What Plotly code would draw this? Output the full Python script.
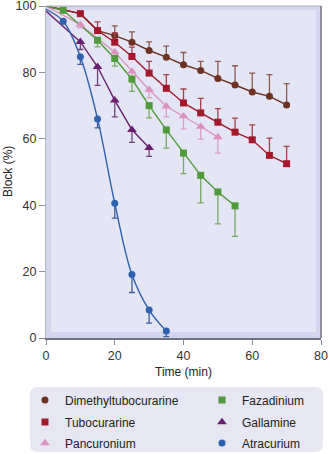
import plotly.graph_objects as go

# Time axis values (min) and percentage block per drug, with SEM bars
dm_time = [20, 25, 30, 35, 40, 45, 50, 55, 60, 65, 70]
dm_block = [91.1, 89.1, 86.6, 84.6, 82.3, 80.6, 78.2, 76.2, 74.1, 72.8, 70.2]
dm_err = [2.9, 3.1, 2.6, 3.3, 3.7, 2.7, 5.1, 5.8, 5.7, 6.5, 6.4]
dm_line_time = [0, 10, 15]
dm_line_block = [100, 97.7, 92.6]

tc_time = [10, 15, 20, 25, 30, 35, 40, 45, 50, 55, 60, 65, 70]
tc_block = [97.7, 92.6, 89.1, 84.8, 79.8, 75.2, 70.8, 67.8, 65.0, 62.0, 59.7, 55.0, 52.5]
tc_err = [0.6, 2.6, 2.8, 2.8, 3.5, 4.1, 4.2, 4.4, 4.1, 4.2, 4.5, 5.2, 5.2]

pc_time = [10, 20, 25, 30, 35, 40, 45, 50]
pc_block = [94.4, 86.1, 80.3, 74.8, 69.8, 66.8, 63.7, 60.5]
pc_err = [1.0, 1.7, 3.0, 2.5, 3.2, 3.8, 3.8, 4.8]

fz_time = [5, 15, 20, 25, 30, 35, 40, 45, 50, 55]
fz_block = [98.7, 89.7, 84.2, 78.0, 70.0, 62.7, 55.7, 49.0, 44.0, 39.8]
fz_err = [0.5, 2.0, 2.3, 3.7, 3.7, 5.5, 6.2, 8.3, 9.6, 9.2]

gl_time = [10, 15, 20, 25, 30]
gl_block = [89.2, 81.7, 71.6, 62.7, 57.3]
gl_err = [2.3, 5.6, 5.0, 3.8, 2.6]

at_time = [5, 10, 15, 20, 25, 30, 35]
at_block = [95.4, 84.7, 66.0, 40.6, 19.1, 8.4, 2.1]
at_err = [0.8, 2.3, 2.7, 4.5, 5.4, 3.9, 1.7]

# Block at time zero, where each curve begins
start_time = 0
start_block = {"Tubocurarine": 100, "Pancuronium": 100, "Fazadinium": 100,
               "Gallamine": 98.5, "Atracurium": 99}

x_ticks = [0, 20, 40, 60, 80]
y_ticks = [0, 20, 40, 60, 80, 100]

W, H = 330, 454
L, R, T, B = 46, 321, 6, 338
pw, ph = R - L, B - T

# legend entry slots: (text left edge px, row centre px)
COL1, COL2 = 65, 242
ROW1, ROW2, ROW3 = 400, 422, 443

series = [
    # name, times, block, error, direction, colour, error colour, symbol, size, legend slot
    ("Dimethyltubocurarine", dm_time, dm_block, dm_err, "up", "#6e3222", "#8d5a52", "circle", 7, (COL1, ROW1)),
    ("Tubocurarine", tc_time, tc_block, tc_err, "up", "#a3192b", "#a8404c", "square", 7, (COL1, ROW2)),
    ("Pancuronium", pc_time, pc_block, pc_err, "down", "#dc93bb", "#d9a0c2", "triangle-up", 8.5, (COL1, ROW3)),
    ("Fazadinium", fz_time, fz_block, fz_err, "down", "#4f9a3a", "#78a864", "square", 7, (COL2, ROW1)),
    ("Gallamine", gl_time, gl_block, gl_err, "down", "#6a2070", "#70447a", "triangle-up", 8.5, (COL2, ROW2)),
    ("Atracurium", at_time, at_block, at_err, "down", "#2f62ae", "#3f5f98", "circle", 7, (COL2, ROW3)),
]

fig = go.Figure()

# connecting lines first, so every marker sits on top of them
for name, t, b, e, d, col, ecol, sym, sz, slot in series:
    if name == "Dimethyltubocurarine":
        lx = dm_line_time + t
        ly = dm_line_block + b
    else:
        lx = [start_time] + t
        ly = [start_block[name]] + b
    smooth = name == "Atracurium"
    fig.add_trace(go.Scatter(
        x=lx, y=ly, mode="lines", showlegend=False, hoverinfo="skip",
        line=dict(color=col, width=1.4, shape="spline" if smooth else "linear",
                  smoothing=1.0 if smooth else 0),
    ))

legend_font = dict(family="Liberation Sans, Arial, sans-serif", size=12, color="#222")
legends = {}
for i, (name, t, b, e, d, col, ecol, sym, sz, slot) in enumerate(series):
    err = dict(type="data", symmetric=False, color=ecol, thickness=1.3, width=3)
    if d == "up":
        err.update(array=e, arrayminus=[0] * len(e))
    else:
        err.update(array=[0] * len(e), arrayminus=e)
    key = "legend" if i == 0 else f"legend{i + 1}"
    fig.add_trace(go.Scatter(
        x=t, y=b, mode="markers", name=name, legend=key,
        marker=dict(symbol=sym, size=sz, color=col, line=dict(width=0)),
        error_y=err,
    ))
    tx, ty = slot
    legends[key] = dict(xref="container", yref="container",
                        x=(tx - 40) / W, y=1 - ty / H,
                        xanchor="left", yanchor="middle",
                        bgcolor="rgba(0,0,0,0)", borderwidth=0, font=legend_font)


def px_x(p):
    return (p - L) / pw


def px_y(p):
    return (B - p) / ph


def rounded_rect(x0, y0, x1, y1, r):
    rx, ry = r / pw, r / ph
    X0, X1 = px_x(x0), px_x(x1)
    Y0, Y1 = px_y(y0), px_y(y1)  # Y0 top, Y1 bottom
    return (f"M {X0+rx},{Y0} L {X1-rx},{Y0} Q {X1},{Y0} {X1},{Y0-ry} "
            f"L {X1},{Y1+ry} Q {X1},{Y1} {X1-rx},{Y1} L {X0+rx},{Y1} "
            f"Q {X0},{Y1} {X0},{Y1+ry} L {X0},{Y0-ry} Q {X0},{Y0} {X0+rx},{Y0} Z")


shapes = [
    # lighter inner panel inside the frame band
    dict(type="rect", xref="paper", yref="paper", layer="below",
         x0=px_x(L + 5), x1=px_x(R - 5), y0=px_y(B - 6), y1=px_y(T + 4),
         fillcolor="#e4e6f6", line=dict(width=0)),
    # top and right frame lines
    dict(type="line", xref="paper", yref="paper", x0=0, x1=1, y0=1, y1=1,
         line=dict(color="#a9abb8", width=1.2)),
    dict(type="line", xref="paper", yref="paper", x0=1, x1=1, y0=0, y1=1,
         line=dict(color="#6f7282", width=1.5)),
    # legend panel
    dict(type="path", xref="paper", yref="paper", layer="below",
         path=rounded_rect(30, 387, 323, 452, 8),
         fillcolor="#e6e7f2", line=dict(width=0)),
]

# vertical axis title, set beside the tick labels
annotations = [
    dict(text="Block (%)", textangle=-90, xref="paper", yref="paper",
         x=px_x(8), y=0.5, xanchor="center", yanchor="middle", showarrow=False,
         font=dict(family="Liberation Sans, Arial, sans-serif", size=12, color="#222")),
]

fig.update_layout(
    width=W, height=H,
    margin=dict(l=L, r=W - R, t=T, b=H - B, pad=0, autoexpand=False),
    paper_bgcolor="white",
    plot_bgcolor="#d3d6ee",
    font=dict(family="Liberation Sans, Arial, sans-serif", size=12, color="#222"),
    shapes=shapes,
    annotations=annotations,
    xaxis=dict(range=[0, 80], tickvals=x_ticks, showgrid=False, zeroline=False,
               showline=True, linecolor="#6f7282", linewidth=1.5,
               ticks="outside", ticklen=5, tickcolor="#8a8c98", tickwidth=1,
               tickfont=dict(size=12.5, color="#333"), ticklabeloverflow="allow",
               title=dict(text="Time (min)", standoff=6, font=dict(size=12, color="#222"))),
    yaxis=dict(range=[0, 100], tickvals=y_ticks, showgrid=False, zeroline=False,
               showline=True, linecolor="#b4b6c6", linewidth=1.2,
               ticks="outside", ticklen=6, tickcolor="#8a8c98", tickwidth=1,
               tickfont=dict(size=12.5, color="#333"), ticklabeloverflow="allow"),
    **legends,
)

fig.write_html("out.html")
